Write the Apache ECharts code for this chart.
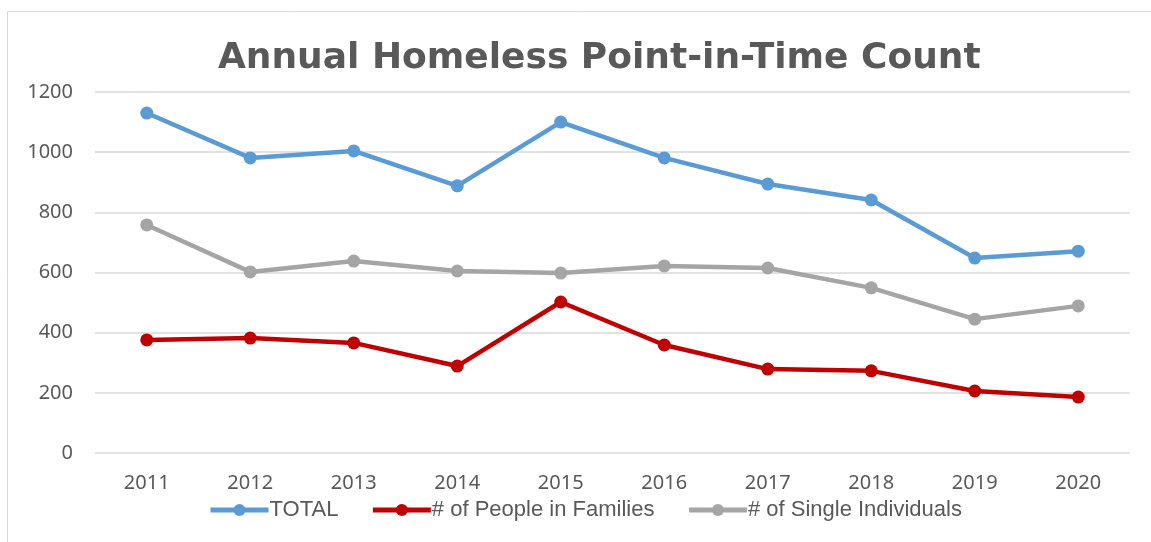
<!DOCTYPE html>
<html>
<head>
<meta charset="utf-8">
<script src="https://cdn.jsdelivr.net/npm/echarts@6/dist/echarts.min.js"></script>
<style>
  html, body { margin: 0; padding: 0; background: #fff; }
  #main { width: 1151px; height: 542px; }
</style>
</head>
<body>
<div id="main"></div>
<script>
var years = ['2011', '2012', '2013', '2014', '2015', '2016', '2017', '2018', '2019', '2020'];
var total = [1130, 981, 1004, 888, 1100, 981, 894, 841, 648, 671];
var families = [376, 382, 366, 289, 502, 359, 279, 273, 206, 186];
var singles = [758, 602, 638, 605, 598, 622, 615, 549, 445, 489];

var dom = document.getElementById('main');
var myChart = echarts.init(dom, null, { renderer: 'canvas' });

function line(name, data, color) {
    return {
        name: name,
        type: 'line',
        data: data,
        symbol: 'circle',
        symbolSize: 13,
        itemStyle: { color: color },
        lineStyle: { width: 4.5, color: color }
    };
}

var option = {
    animation: false,
    title: {
        text: 'Annual Homeless Point-in-Time Count',
        left: 213,
        top: 36,
        textStyle: { fontFamily: 'DejaVu Sans', fontWeight: 'bold', fontSize: 36, color: '#595959' }
    },
    graphic: [{
        type: 'rect',
        shape: { x: 7.5, y: 11.5, width: 1300, height: 700 },
        style: { fill: 'none', stroke: '#d9d9d9', lineWidth: 1 },
        silent: true
    }],
    grid: { left: 95, right: 21, top: 92, bottom: 89 },
    legend: {
        bottom: 16,
        left: 203,
        itemWidth: 58,
        itemHeight: 15,
        itemGap: 32,
        lineStyle: { width: 5 },
        textStyle: { fontFamily: 'Liberation Sans', fontSize: 22, color: '#595959', padding: [0, 0, 0, -4] },
        data: ['TOTAL', '# of People in Families', '# of Single Individuals']
    },
    xAxis: {
        type: 'category',
        data: years,
        axisLine: { show: false },
        axisTick: { show: false },
        axisLabel: { fontFamily: 'Noto Sans', fontSize: 20, color: '#595959', margin: 20 }
    },
    yAxis: {
        type: 'value',
        min: 0,
        max: 1200,
        interval: 200,
        axisLabel: {
            fontFamily: 'Noto Sans', fontSize: 20, color: '#595959', margin: 22,
            formatter: function (v) { return String(v); }
        },
        splitLine: { lineStyle: { color: '#d9d9d9', width: 1.5 } }
    },
    series: [
        line('TOTAL', total, '#5B9BD5'),
        line('# of People in Families', families, '#C00000'),
        line('# of Single Individuals', singles, '#A5A5A5')
    ]
};

myChart.setOption(option);
window.addEventListener('resize', myChart.resize);
</script>
</body>
</html>
